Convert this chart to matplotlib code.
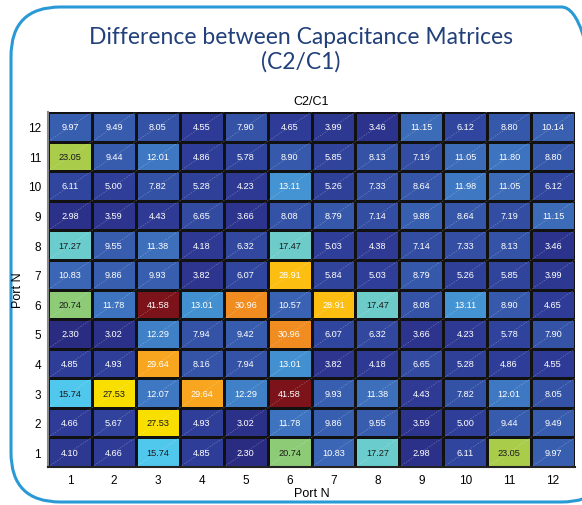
import numpy as np
import matplotlib
matplotlib.use('Agg')
import matplotlib.pyplot as plt
from matplotlib.colors import LinearSegmentedColormap
from matplotlib.patches import FancyBboxPatch

plt.rcParams['font.family'] = ['Liberation Sans', 'DejaVu Sans']

ports = list(range(1, 13))

# rows are Port N (y) from 1 to 12, columns are Port N (x) from 1 to 12
ratio = np.array([
    [4.10, 4.66, 15.74, 4.85, 2.30, 20.74, 10.83, 17.27, 2.98, 6.11, 23.05, 9.97],
    [4.66, 5.67, 27.53, 4.93, 3.02, 11.78, 9.86, 9.55, 3.59, 5.00, 9.44, 9.49],
    [15.74, 27.53, 12.07, 29.64, 12.29, 41.58, 9.93, 11.38, 4.43, 7.82, 12.01, 8.05],
    [4.85, 4.93, 29.64, 8.16, 7.94, 13.01, 3.82, 4.18, 6.65, 5.28, 4.86, 4.55],
    [2.30, 3.02, 12.29, 7.94, 9.42, 30.96, 6.07, 6.32, 3.66, 4.23, 5.78, 7.90],
    [20.74, 11.78, 41.58, 13.01, 30.96, 10.57, 28.91, 17.47, 8.08, 13.11, 8.90, 4.65],
    [10.83, 9.86, 9.93, 3.82, 6.07, 28.91, 5.84, 5.03, 8.79, 5.26, 5.85, 3.99],
    [17.27, 9.55, 11.38, 4.18, 6.32, 17.47, 5.03, 4.38, 7.14, 7.33, 8.13, 3.46],
    [2.98, 3.59, 4.43, 6.65, 3.66, 8.08, 8.79, 7.14, 9.88, 8.64, 7.19, 11.15],
    [6.11, 5.00, 7.82, 5.28, 4.23, 13.11, 5.26, 7.33, 8.64, 11.98, 11.05, 6.12],
    [23.05, 9.44, 12.01, 4.86, 5.78, 8.90, 5.85, 8.13, 7.19, 11.05, 11.80, 8.80],
    [9.97, 9.49, 8.05, 4.55, 7.90, 4.65, 3.99, 3.46, 11.15, 6.12, 8.80, 10.14],
])

vmin, vmax = ratio.min(), ratio.max()

# colour stops (value, colour)
stops = [
    (2.30, '#2a2c82'), (4.5, '#2e3b96'), (7.5, '#3350a4'), (10.5, '#3a62b2'),
    (12.0, '#3f78c2'), (13.1, '#4494d4'), (15.74, '#50c8ec'), (17.3, '#6ccccc'),
    (20.74, '#8ccb78'), (23.05, '#a8cc4c'), (27.53, '#f8e000'), (28.91, '#fcc010'),
    (29.64, '#f8a820'), (30.96, '#f08c20'), (41.58, '#7c121a'),
]
cmap = LinearSegmentedColormap.from_list(
    'c2c1', [((v - vmin) / (vmax - vmin), c) for v, c in stops])

fig = plt.figure(figsize=(5.82, 5.06), dpi=100)

# rounded frame around the whole figure
frame = FancyBboxPatch((11 / 582, 1 - 503 / 506), 600 / 582, 495 / 506,
                       boxstyle='round,pad=0,rounding_size=0.085',
                       transform=fig.transFigure, facecolor='none',
                       edgecolor='#2a9ad6', linewidth=2.2, clip_on=False,
                       mutation_aspect=582 / 506, zorder=-1)
fig.patches.append(frame)

fig.text(0.517, 1 - 37 / 506, 'Difference between Capacitance Matrices',
         ha='center', va='center', fontsize=16.5, color='#22407a', family='Lato')
fig.text(0.517, 1 - 62 / 506, '(C2/C1)',
         ha='center', va='center', fontsize=16.5, color='#22407a', family='Lato')

ax = fig.add_axes([48 / 582, 1 - 468 / 506, 527 / 582, 355 / 506])
edges = np.arange(0.5, 13.5, 1)
ax.pcolormesh(edges, edges, ratio, cmap=cmap, vmin=vmin, vmax=vmax,
              edgecolor='#111111', linewidth=0.9)

# faint diagonal seams through every cell
for k in range(-12, 13):
    xs = np.array([0.5, 12.5])
    ax.plot(xs, xs + k, color='white', lw=0.4, ls=(0, (3, 2)), alpha=0.35,
            clip_on=True)

for i in range(12):
    for j in range(12):
        v = ratio[i, j]
        col = '#1a1a1a' if 15 <= v <= 28 else 'white'
        ax.text(ports[j], ports[i], f'{v:.2f}', ha='center', va='center',
                fontsize=6.6, color=col)

ax.set_xlim(0.5, 12.5)
ax.set_ylim(0.5, 12.5)
ax.set_xticks(ports)
ax.set_yticks(ports)
ax.tick_params(length=0, labelsize=8.5, pad=5)
for s in ['top', 'right']:
    ax.spines[s].set_visible(False)
ax.spines['left'].set_color('#888888')
ax.spines['left'].set_linewidth(1.5)
ax.spines['bottom'].set_color('#222222')
ax.spines['bottom'].set_linewidth(1.5)
ax.set_xlabel('Port N', fontsize=9, labelpad=1)
ax.set_ylabel('Port N', fontsize=9, labelpad=3)
ax.set_title('C2/C1', fontsize=9, pad=6)

fig.savefig('out.png', dpi=100)
